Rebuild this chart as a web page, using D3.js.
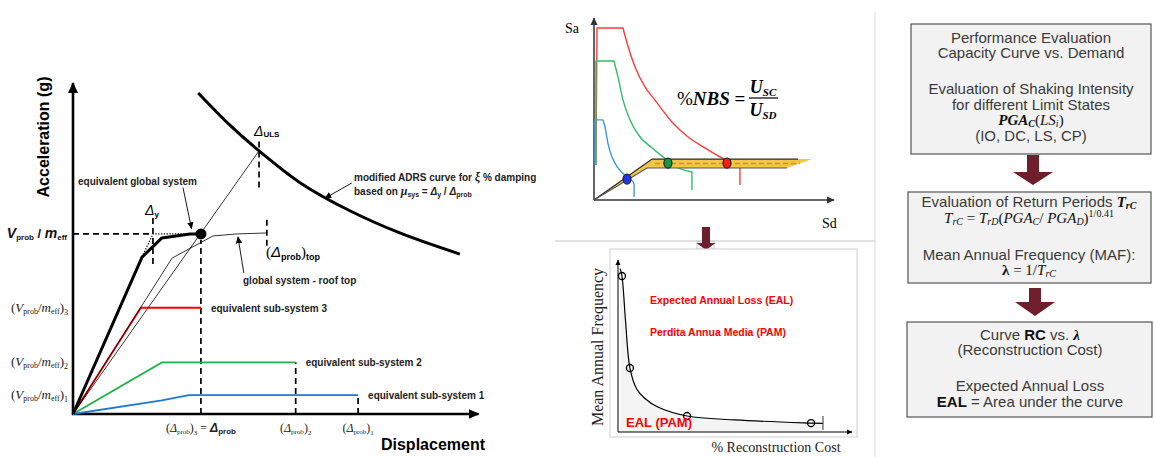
<!DOCTYPE html>
<html><head><meta charset="utf-8">
<script src="https://cdn.jsdelivr.net/npm/d3@7"></script>
<style>body{margin:0;background:#fff}svg{display:block}</style>
</head><body>
<svg id="c" width="1154" height="457"></svg>
<script>
// ---------------- DATA ----------------
// Left panel (displacement / acceleration, arbitrary units 0..100)
const globalEquivalent = [[0,0],[17.7,47.4],[22.8,53.2],[30,54.4],[32.8,54.4]];
const performancePoint = [32.8,54.4];
const secantToULS = [[0,0],[47.7,79.5]];
const roofTop = [[0,0],[25.4,47.1],[35.9,53.8],[42.1,54.4],[49.7,54.7]];
const subSystem3 = [[0,0],[17.4,32.1],[32.8,32.1]];
const subSystem2 = [[0,0],[22.8,15.6],[57.1,15.6]];
const subSystem1 = [[0,0],[22.8,4.1],[29.7,5.7],[73.1,5.7]];
const adrsCurve = [[32.1,97],[40.3,87.2],[47.7,79.5],[58.2,69.9],[71,61.4],[83.8,54.7],[99.2,48.3]];
const yieldDotted = [[17.7,47.4],[20.5,54.4],[30,54.4]];
const yTickValues = [54.4,32.1,15.6,5.7];
const yTickNames = ["global","3","2","1"];
const xTickValues = [32.8,57.1,73.1];
const xTickNames = ["3","2","1"];
const subSystemLabels = ["equivalent sub-system 3","equivalent sub-system 2","equivalent sub-system 1"];

// Middle-top panel (Sd / Sa, units 0..100): plateau, decaying branch, tail
const spectrumRedPlateau = [[0.8,19.2],[1.25,94.5],[12.1,94.5]];
const spectrumRedDecay = [[12.1,94.5],[13.75,86.3],[17.1,73.1],[21.25,62.1],[25.4,54.9],[32.5,42.9],[39.2,34.6],[46.25,28.6],[53.3,23.1],[57.9,20.3],[60.8,18.1]];
const spectrumRedTail = [[60.8,18.1],[60.8,8.2]];
const spectrumGreenPlateau = [[0.8,19.2],[0.8,76.4],[8.3,76.4]];
const spectrumGreenDecay = [[8.3,76.4],[10,67.6],[12.1,54.9],[15,44],[19.2,34.6],[24.2,28.6],[30.4,22],[32.9,19.2],[40.8,15.4]];
const spectrumGreenTail = [[40.8,15.4],[40.8,5.5]];
const spectrumBluePlateau = [[0.4,19.2],[0.4,44],[3.75,44]];
const spectrumBlueDecay = [[3.75,44],[4.6,40.1],[5.8,31.3],[7.5,23.6],[10,17.6],[13.75,12.6],[16.25,9.9],[16.7,8.5]];
const spectrumBlueTail = [[16.7,8.5],[16.7,1.6]];
const capacityBand = [[0,0],[24.2,22.5],[90.8,22.5],[80.4,17.6],[22.1,17.6]];
const capacityUpper = [[0,0],[24.2,22.5],[85,22.5]];
const capacityLower = [[0,0],[22.1,17.6],[80.4,17.6]];
const capacityMedian = [[25.4,20.05],[85.8,20.05]];
const demandPoints = [[13.75,11.5],[30.8,20.3],[55.4,20.3]];
const demandColors = ["#2233ee","#0f9a4a","#ff1a1a"];

// Middle-bottom panel (% reconstruction cost / mean annual frequency)
const lossCurve = [[0.9,95],[1.7,90.7],[3.2,65],[5.1,37.2],[8,25],[11.5,19.5],[17,14.5],[29.5,9.3],[50,7],[82.5,5.2],[87.6,5.0]];
const lossPoints = [[1.7,90.7],[5.1,37.2],[29.5,9.3],[82.5,5.2]];

// ---------------- SCALES ----------------
const xL = d3.scaleLinear([0,100],[73,463]);
const yL = d3.scaleLinear([0,100],[414,83]);
const xS = d3.scaleLinear([0,100],[594,834]);
const yS = d3.scaleLinear([0,100],[200,18]);
const xE = d3.scaleLinear([0,100],[618,852]);
const yE = d3.scaleLinear([0,100],[432,260]);

const svg = d3.select('#c');
const SANS = 'Liberation Sans, Arial, sans-serif';
const SERIF = 'Liberation Serif, Times New Roman, serif';
const MAROON = '#6e1f2b';

const defs = svg.append('defs');
function marker(id, size, color){
  defs.append('marker').attr('id',id).attr('viewBox','0 0 10 10').attr('refX',9).attr('refY',5)
    .attr('markerWidth',size).attr('markerHeight',size).attr('markerUnits','userSpaceOnUse').attr('orient','auto')
    .append('path').attr('d','M0,0.5L10,5L0,9.5Z').attr('fill',color);
}
marker('axL',11,'#000'); marker('axS',8,'#333'); marker('ptr',7,'#000'); marker('axE',6,'#000');

const mk = (xs,ys,curve)=>d3.line().x(d=>xs(d[0])).y(d=>ys(d[1])).curve(curve||d3.curveLinear);

function rich(parent, x, y, parts, attrs){
  const t = parent.append('text').attr('x',x).attr('y',y);
  for (const k in (attrs||{})) t.attr(k, attrs[k]);
  let cur = 0;
  parts.forEach(p=>{
    const [txt,o] = Array.isArray(p)?[p[0],p[1]||{}]:[p,{}];
    const off = o.sub?o.sub:(o.sup?-o.sup:0);
    const ts = t.append('tspan').text(txt);
    if (off-cur!==0) ts.attr('dy',off-cur);
    cur = off;
    if (o.fs) ts.attr('font-size',o.fs);
    if (o.fw) ts.attr('font-weight',o.fw);
    if (o.st) ts.attr('font-style',o.st);
    if (o.ff) ts.attr('font-family',o.ff);
    if (o.fill) ts.attr('fill',o.fill);
  });
  return t;
}

// ================= LEFT PANEL =================
const L = svg.append('g');
L.append('line').attr('x1',xL(0)).attr('y1',yL(0)+1).attr('x2',xL(0)).attr('y2',yL(100))
  .attr('stroke','#000').attr('stroke-width',2.6).attr('marker-end','url(#axL)');
L.append('line').attr('x1',xL(0)-1).attr('y1',yL(0)).attr('x2',xL(104)).attr('y2',yL(0))
  .attr('stroke','#000').attr('stroke-width',2.6).attr('marker-end','url(#axL)');

const dash = (pts)=>L.append('path').attr('d',mk(xL,yL)(pts)).attr('fill','none').attr('stroke','#000')
  .attr('stroke-width',1.7).attr('stroke-dasharray','6,4');
dash([[0,performancePoint[1]],[20.5,performancePoint[1]]]);
dash([[20.5,45.3],[20.5,59.3]]);
dash([[performancePoint[0],0],[performancePoint[0],52.6]]);
dash([[47.7,68.4],[47.7,82.7]]);
dash([[49.7,50.8],[49.7,59]]);
dash([[xTickValues[1],0],[xTickValues[1],yTickValues[2]]]);
dash([[xTickValues[2],0],[xTickValues[2],yTickValues[3]]]);

L.append('path').attr('d',mk(xL,yL)(subSystem3)).attr('fill','none').attr('stroke','#ff0000').attr('stroke-width',1.9);
L.append('path').attr('d',mk(xL,yL)(subSystem2)).attr('fill','none').attr('stroke','#22b14c').attr('stroke-width',1.9);
L.append('path').attr('d',mk(xL,yL)(subSystem1)).attr('fill','none').attr('stroke','#1f78d1').attr('stroke-width',1.9);
L.append('path').attr('d',mk(xL,yL)(secantToULS)).attr('fill','none').attr('stroke','#000').attr('stroke-width',0.8);
L.append('path').attr('d',mk(xL,yL)(roofTop)).attr('fill','none').attr('stroke','#000').attr('stroke-width',0.8);
L.append('path').attr('d',mk(xL,yL)(yieldDotted)).attr('fill','none').attr('stroke','#000').attr('stroke-width',1.2).attr('stroke-dasharray','1.3,1.5');
L.append('path').attr('d',mk(xL,yL)(globalEquivalent)).attr('fill','none').attr('stroke','#000').attr('stroke-width',3).attr('stroke-linejoin','round');
L.append('circle').attr('cx',xL(performancePoint[0])).attr('cy',yL(performancePoint[1])).attr('r',5.5).attr('fill','#000');
L.append('path').attr('d',mk(xL,yL,d3.curveCatmullRom)(adrsCurve)).attr('fill','none').attr('stroke','#000').attr('stroke-width',3);

const ptr = (a,b)=>L.append('line').attr('x1',xL(a[0])).attr('y1',yL(a[1])).attr('x2',xL(b[0])).attr('y2',yL(b[1]))
  .attr('stroke','#000').attr('stroke-width',0.9).attr('marker-end','url(#ptr)');
ptr([71.5,69.8],[64.6,65.2]);
ptr([28.2,68.4],[30.4,56]);
ptr([43.8,42.6],[42.3,53.5]);

L.append('text').attr('transform','translate(49,137) rotate(-90)').attr('text-anchor','middle')
  .attr('font-family',SANS).attr('font-weight','bold').attr('font-size',16).text('Acceleration (g)');
L.append('text').attr('x',433).attr('y',450).attr('text-anchor','middle')
  .attr('font-family',SANS).attr('font-weight','bold').attr('font-size',16).text('Displacement');

const small = {'font-family':SANS,'font-weight':'bold','font-size':10,'fill':'#222'};
rich(L,78,185,['equivalent global system'],small);
rich(L,243,284,['global system - roof top'],small);
rich(L,354,181,['modified ADRS curve for ',['ξ',{ff:SERIF,st:'italic',fs:12}],[' % damping',{}]],small);
rich(L,354,195,['based on ',['μ',{ff:SERIF,st:'italic',fs:12}],['sys',{fs:7,sub:2}],[' =  ',{}],['Δ',{st:'italic'}],['y',{fs:7,sub:2}],[' / ',{}],['Δ',{st:'italic'}],['prob',{fs:7,sub:2}]],small);
subSystemLabels.forEach((s,i)=>{
  const v = yTickValues[i+1];
  L.append('text').attr('x',xL(xTickValues[i])+10).attr('y',yL(v)+4).attr('font-family',SANS).attr('font-weight','bold')
   .attr('font-size',10).attr('fill','#222').text(s);
});
rich(L,254,136,[['Δ',{st:'italic',fs:14}],['ULS',{fs:8,fw:'bold',sub:1}]],{'font-family':SANS});
rich(L,145,215,[['Δ',{st:'italic',fs:14}],['y',{fs:8,fw:'bold',sub:2}]],{'font-family':SANS});
rich(L,266,257,[['(',{ff:SERIF,fs:15}],['Δ',{st:'italic',fs:15}],['prob',{fs:9,fw:'bold',sub:3}],[')',{ff:SERIF,fs:15,sub:0}],['top',{fs:9,fw:'bold',sub:3}]],{'font-family':SANS});
// y tick labels
rich(L,67,238,[['V',{st:'italic',fs:14}],['prob',{fs:8,fw:'bold',sub:2}],[' / ',{fs:13}],['m',{st:'italic',fs:14}],['eff',{fs:8,fw:'bold',sub:2}]],{'font-family':SANS,'text-anchor':'end','font-weight':'bold','fill':'#111'});
yTickNames.slice(1).forEach((n,i)=>{
  const v = yTickValues[i+1];
  rich(L,68,yL(v)+4,[['(',{}],['V',{st:'italic'}],['prob',{fs:8,sub:2}],['/',{}],['m',{st:'italic'}],['eff',{fs:8,sub:2}],[')',{}],[n,{fs:8,sub:3}]],
   {'font-family':SERIF,'font-size':13,'text-anchor':'end','fill':'#222'});
});
xTickNames.forEach((n,i)=>{
  const parts = [['(',{}],['Δ',{st:'italic'}],['prob',{fs:7,sub:2}],[')',{}],[n,{fs:7,sub:3}]];
  if (i===0) parts.push([' = ',{}],['Δ',{st:'italic',fw:'bold',ff:SANS}],['prob',{fs:8,sub:2,fw:'bold',ff:SANS}]);
  rich(L,xL(xTickValues[i]),432,parts,{'font-family':SERIF,'font-size':12,'text-anchor':'middle','fill':'#222'});
});

// ================= MIDDLE TOP =================
const S = svg.append('g');
S.append('line').attr('x1',xS(0)).attr('y1',yS(0)).attr('x2',xS(0)).attr('y2',yS(100)).attr('stroke','#333').attr('stroke-width',1.5).attr('marker-end','url(#axS)');
S.append('line').attr('x1',xS(0)).attr('y1',yS(0)).attr('x2',xS(100)).attr('y2',yS(0)).attr('stroke','#333').attr('stroke-width',1.5).attr('marker-end','url(#axS)');
S.append('text').attr('x',565).attr('y',33).attr('font-family',SERIF).attr('font-size',14).text('Sa');
S.append('text').attr('x',822).attr('y',228).attr('font-family',SERIF).attr('font-size',14).text('Sd');
[[spectrumRedPlateau,spectrumRedDecay,spectrumRedTail,'#ff3b3b'],
 [spectrumGreenPlateau,spectrumGreenDecay,spectrumGreenTail,'#2fbf64'],
 [spectrumBluePlateau,spectrumBlueDecay,spectrumBlueTail,'#3a9ae0']].forEach(([p,d,t,c])=>{
  const path = mk(xS,yS)(p) + mk(xS,yS,d3.curveMonotoneX)(d).replace(/^M/,'L') + mk(xS,yS)(t).replace(/^M/,'L');
  S.append('path').attr('d',path).attr('fill','none').attr('stroke',c).attr('stroke-width',1.4).attr('stroke-linejoin','round');
});
S.append('path').attr('d',mk(xS,yS)(capacityBand)+'Z').attr('fill','#f3c544').attr('stroke','none');
S.append('path').attr('d',mk(xS,yS)(capacityUpper)).attr('fill','none').attr('stroke','#2a2a2a').attr('stroke-width',1.3);
S.append('path').attr('d',mk(xS,yS)(capacityLower)).attr('fill','none').attr('stroke','#555').attr('stroke-width',1.1);
S.append('path').attr('d',mk(xS,yS)(capacityMedian)).attr('fill','none').attr('stroke','#c9962a').attr('stroke-width',1.3).attr('stroke-dasharray','5,3');
demandPoints.forEach((p,i)=>{
  S.append('ellipse').attr('cx',xS(p[0])).attr('cy',yS(p[1])).attr('rx',4).attr('ry',5)
   .attr('fill',demandColors[i]).attr('stroke','#222').attr('stroke-width',1.2);
});
rich(S,677,105,[['%',{st:'normal',fw:'normal'}],['NBS',{}],[' = ',{st:'normal'}]],{'font-family':SERIF,'font-size':19,'font-style':'italic','font-weight':'bold'});
rich(S,763,93,[['U',{}],['SC',{fs:11,sub:3}]],{'font-family':SERIF,'font-size':18,'font-style':'italic','font-weight':'bold','text-anchor':'middle'});
S.append('line').attr('x1',749).attr('x2',778).attr('y1',98).attr('y2',98).attr('stroke','#000').attr('stroke-width',1.2);
rich(S,763,116,[['U',{}],['SD',{fs:11,sub:3}]],{'font-family':SERIF,'font-size':18,'font-style':'italic','font-weight':'bold','text-anchor':'middle'});

// separators
svg.append('line').attr('x1',555).attr('x2',875).attr('y1',241).attr('y2',241).attr('stroke','#c8c8c8').attr('stroke-width',1);
svg.append('line').attr('x1',875).attr('x2',875).attr('y1',12).attr('y2',457).attr('stroke','#dcdcdc').attr('stroke-width',1);

function bigArrow(cx, top, shaftW, shaftBottom, headW, tip){
  svg.append('path').attr('d',`M${cx-shaftW/2},${top}L${cx+shaftW/2},${top}L${cx+shaftW/2},${shaftBottom}L${cx+headW/2},${shaftBottom}L${cx},${tip}L${cx-headW/2},${shaftBottom}L${cx-shaftW/2},${shaftBottom}Z`).attr('fill',MAROON);
}
svg.append('rect').attr('x',697).attr('y',241).attr('width',17).attr('height',8).attr('fill','none').attr('stroke','#c8c8c8');
bigArrow(706,227,8,243,19,250);

// ================= MIDDLE BOTTOM =================
const E = svg.append('g');
E.append('rect').attr('x',610).attr('y',249).attr('width',247).attr('height',188).attr('fill','#fff').attr('stroke','#cfcfcf');
E.append('path').attr('d',d3.area().x(d=>xE(d[0])).y0(yE(0)).y1(d=>yE(d[1])).curve(d3.curveCatmullRom)(lossCurve)).attr('fill','#f4f4f4');
E.append('line').attr('x1',xE(0)).attr('y1',yE(0)).attr('x2',xE(0)).attr('y2',yE(100)).attr('stroke','#000').attr('stroke-width',1).attr('marker-end','url(#axE)');
E.append('line').attr('x1',xE(0)).attr('y1',yE(0)).attr('x2',xE(100)).attr('y2',yE(0)).attr('stroke','#000').attr('stroke-width',1).attr('marker-end','url(#axE)');
E.append('path').attr('d',mk(xE,yE,d3.curveCatmullRom)(lossCurve)).attr('fill','none').attr('stroke','#000').attr('stroke-width',1.2);
const last = lossCurve[lossCurve.length-1];
E.append('line').attr('x1',xE(last[0])).attr('x2',xE(last[0])).attr('y1',yE(9.3)).attr('y2',yE(1.2)).attr('stroke','#333').attr('stroke-width',1);
lossPoints.forEach(p=>E.append('circle').attr('cx',xE(p[0])).attr('cy',yE(p[1])).attr('r',3.5).attr('fill','none').attr('stroke','#000').attr('stroke-width',1.3));
E.append('text').attr('x',650).attr('y',304).attr('font-family',SANS).attr('font-weight','bold').attr('font-size',10.5).attr('fill','#ff0000').text('Expected Annual Loss (EAL)');
E.append('text').attr('x',650).attr('y',336).attr('font-family',SANS).attr('font-weight','bold').attr('font-size',10.5).attr('fill','#ff0000').text('Perdita Annua Media (PAM)');
E.append('text').attr('x',626).attr('y',427).attr('font-family',SANS).attr('font-weight','bold').attr('font-size',13).attr('fill','#ff0000').text('EAL (PAM)');
E.append('text').attr('transform','translate(603,347) rotate(-90)').attr('text-anchor','middle').attr('font-family',SERIF).attr('font-size',16).attr('fill','#222').text('Mean Annual Frequency');
E.append('text').attr('x',776).attr('y',452).attr('text-anchor','middle').attr('font-family',SERIF).attr('font-size',14).attr('fill','#222').text('% Reconstruction Cost');

// ================= RIGHT BOXES =================
const R = svg.append('g').attr('font-family',SANS).attr('font-size',15).attr('fill','#3a3a3a');
function box(x,y,w,h){ R.append('rect').attr('x',x).attr('y',y).attr('width',w).attr('height',h).attr('fill','#f2f2f2').attr('stroke','#555').attr('stroke-width',1.2); }
box(911,24,240,130);
const cx = 1031;
rich(R,cx,43,['Performance Evaluation'],{'text-anchor':'middle'});
rich(R,cx,58,['Capacity Curve vs. Demand'],{'text-anchor':'middle'});
rich(R,cx,94,['Evaluation of Shaking Intensity'],{'text-anchor':'middle'});
rich(R,cx,110,['for different Limit States'],{'text-anchor':'middle'});
rich(R,cx,125,[['PGA',{st:'italic',fw:'bold'}],['C',{st:'italic',fw:'bold',fs:10,sub:2}],['(',{}],['LS',{st:'italic'}],['i',{st:'italic',fs:10,sub:2}],[')',{}]],{'text-anchor':'middle','font-family':SERIF,'fill':'#111'});
rich(R,cx,141,['(IO, DC, LS, CP)'],{'text-anchor':'middle'});
bigArrow(1033,155,12,172,40,185);

box(908,192,243,91);
rich(R,1029,207,['Evaluation of Return Periods ',['T',{ff:SERIF,st:'italic',fw:'bold',fill:'#111'}],['rC',{ff:SERIF,st:'italic',fw:'bold',fs:10,sub:2,fill:'#111'}]],{'text-anchor':'middle'});
rich(R,1029,223,[['T',{st:'italic'}],['rC',{st:'italic',fs:10,sub:2}],[' = ',{}],['T',{st:'italic'}],['rD',{st:'italic',fs:10,sub:2}],['(',{}],['PGA',{st:'italic'}],['C',{st:'italic',fs:10,sub:2}],['/ ',{}],['PGA',{st:'italic'}],['D',{st:'italic',fs:10,sub:2}],[')',{}],['1/0.41',{fs:10,sup:6}]],{'text-anchor':'middle','font-family':SERIF,'fill':'#111'});
rich(R,1029,260,['Mean Annual Frequency (MAF):'],{'text-anchor':'middle'});
rich(R,1029,275,[['λ',{fw:'bold'}],[' = 1/',{}],['T',{st:'italic'}],['rC',{st:'italic',fs:10,sub:2}]],{'text-anchor':'middle','font-family':SERIF,'fill':'#111'});
bigArrow(1035,288,12,302,40,316);

box(907,322,245,95);
rich(R,1030,340,['Curve ',['RC',{fw:'bold',fill:'#111'}],' vs. ',['λ',{ff:SERIF,st:'italic',fw:'bold',fill:'#111'}]],{'text-anchor':'middle'});
rich(R,1030,355,['(Reconstruction Cost)'],{'text-anchor':'middle'});
rich(R,1030,391,['Expected Annual Loss'],{'text-anchor':'middle'});
rich(R,1030,407,[['EAL',{fw:'bold',fill:'#111'}],' = Area under the curve'],{'text-anchor':'middle'});
</script>
</body></html>
